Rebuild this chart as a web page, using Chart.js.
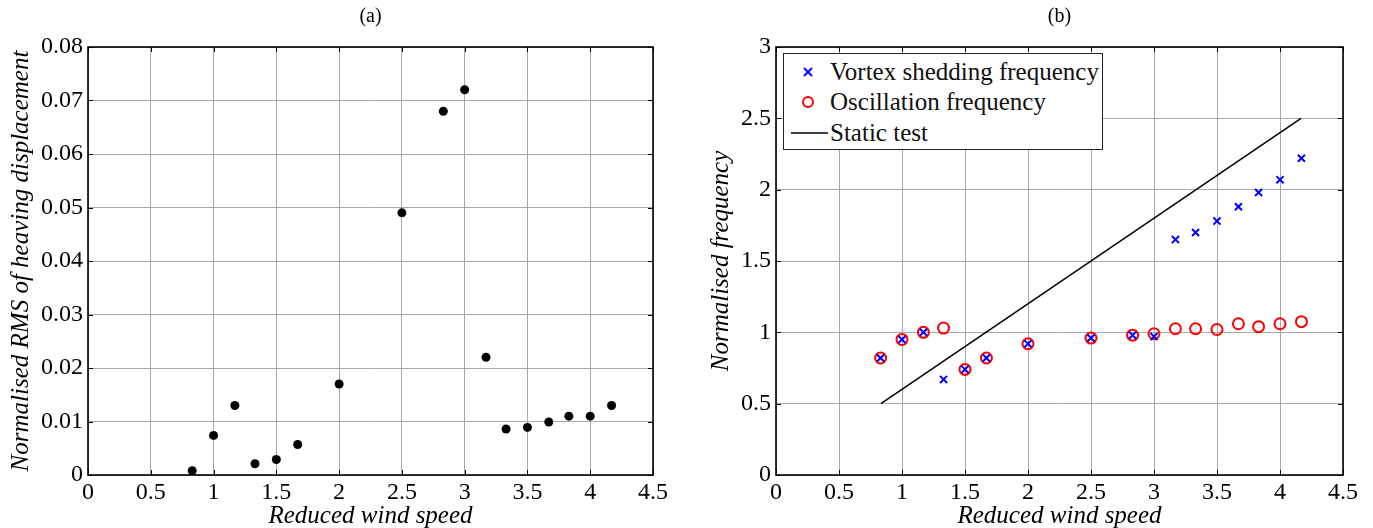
<!DOCTYPE html>
<html lang="en">
<head>
    <meta charset="UTF-8">
    <title>Heaving response and frequencies</title>
    <script src="https://cdn.jsdelivr.net/npm/chart.js"></script>
    <style>
        body {
            margin: 0;
            background: white;
            width: 1373px;
            height: 528px;
            position: relative;
            overflow: hidden;
            font-family: "Liberation Serif", "Times New Roman", Times, "DejaVu Serif", serif;
        }
        #chartA { position: absolute; left: 0; top: 0; }
        #chartB { position: absolute; left: 686px; top: 0; }
        #legend {
            position: absolute;
            left: 783px;
            top: 53px;
            width: 318px;
            height: 95px;
            border: 1.5px solid #222;
            background: white;
            font-size: 25px;
            color: #111;
        }
        .row { position: absolute; left: 0; height: 28px; line-height: 28px; }
        .row span { position: absolute; left: 46px; white-space: nowrap; }
        .row svg { position: absolute; left: 0; top: 0; }
    </style>
</head>
<body>
    <canvas id="chartA" width="686" height="528"></canvas>
    <canvas id="chartB" width="687" height="528"></canvas>
    <div id="legend">
        <div class="row" style="top:4px">
            <svg width="46" height="28"><path d="M20 10 L28 18 M28 10 L20 18" stroke="blue" stroke-width="2"/></svg>
            <span>Vortex shedding frequency</span>
        </div>
        <div class="row" style="top:34px">
            <svg width="46" height="28"><circle cx="24" cy="14" r="5" stroke="red" stroke-width="2" fill="none"/></svg>
            <span>Oscillation frequency</span>
        </div>
        <div class="row" style="top:65px">
            <svg width="46" height="28"><path d="M7 14 L44 14" stroke="black" stroke-width="1.5"/></svg>
            <span>Static test</span>
        </div>
    </div>

    <script>
        // reduced wind speed of each test
        const windSpeed = [0.83, 1.0, 1.17, 1.33, 1.5, 1.67, 2.0, 2.5, 2.83, 3.0, 3.17, 3.33, 3.5, 3.67, 3.83, 4.0, 4.17];
        // (a) normalised RMS of heaving displacement
        const rmsHeave = [0.0008, 0.0074, 0.013, 0.0021, 0.0029, 0.0057, 0.017, 0.049, 0.068, 0.072, 0.022, 0.0086, 0.0089, 0.0099, 0.011, 0.011, 0.013];
        // (b) normalised frequencies
        const vortexFreq = [0.82, 0.95, 1.0, 0.67, 0.74, 0.82, 0.92, 0.96, 0.98, 0.97, 1.65, 1.70, 1.78, 1.88, 1.98, 2.07, 2.22];
        const oscFreq = [0.82, 0.95, 1.0, 1.03, 0.74, 0.82, 0.92, 0.96, 0.98, 0.99, 1.025, 1.025, 1.02, 1.06, 1.04, 1.06, 1.075];
        const staticX = [0.833, 4.167];
        const staticY = [0.5, 2.5];

        const xTicks = [0, 0.5, 1, 1.5, 2, 2.5, 3, 3.5, 4, 4.5];
        const yTicksA = [0, 0.01, 0.02, 0.03, 0.04, 0.05, 0.06, 0.07, 0.08];
        const yTicksB = [0, 0.5, 1, 1.5, 2, 2.5, 3];

        const FONT = '"Liberation Serif", "Times New Roman", Times, "DejaVu Serif", serif';
        const pts = (xs, ys) => xs.map((x, i) => ({ x: x, y: ys[i] }));

        // box around the plot, small inward ticks, panel label
        const framePlugin = {
            id: 'frame',
            afterDraw(chart, args, opts) {
                const c = chart.ctx, a = chart.chartArea;
                const xs = chart.scales.x, ys = chart.scales.y;
                c.save();
                c.strokeStyle = '#000';
                c.lineWidth = 1;
                c.beginPath();
                xs.ticks.forEach(t => {
                    const px = Math.round(xs.getPixelForValue(t.value)) + 0.5;
                    c.moveTo(px, a.top); c.lineTo(px, a.top + 5);
                    c.moveTo(px, a.bottom); c.lineTo(px, a.bottom - 5);
                });
                ys.ticks.forEach(t => {
                    const py = Math.round(ys.getPixelForValue(t.value)) + 0.5;
                    c.moveTo(a.left, py); c.lineTo(a.left + 5, py);
                    c.moveTo(a.right, py); c.lineTo(a.right - 5, py);
                });
                c.stroke();
                c.lineWidth = 1.6;
                c.strokeRect(a.left, a.top, a.right - a.left, a.bottom - a.top);
                c.fillStyle = '#000';
                c.font = '20px ' + FONT;
                c.textAlign = 'center';
                c.textBaseline = 'middle';
                c.fillText(opts.label, (a.left + a.right) / 2, 17);
                c.restore();
            }
        };

        function makeScales(yTicks, yMax, yTitle, yWidth, yTitlePad) {
            return {
                x: {
                    type: 'linear', min: 0, max: 4.5,
                    afterBuildTicks: s => { s.ticks = xTicks.map(v => ({ value: v })); },
                    afterFit: s => { s.height = 53; },
                    grid: { color: '#a8a8a8', lineWidth: 1, drawTicks: false },
                    border: { display: false },
                    ticks: { color: '#000', padding: 3, font: { family: FONT, size: 24 }, callback: v => String(v) },
                    title: { display: true, text: 'Reduced wind speed', color: '#000', padding: { top: 0, bottom: -1 },
                             font: { family: FONT, size: 25, style: 'italic', lineHeight: 1 } }
                },
                y: {
                    type: 'linear', min: 0, max: yMax,
                    afterBuildTicks: s => { s.ticks = yTicks.map(v => ({ value: v })); },
                    afterFit: s => { s.width = yWidth; },
                    grid: { color: '#a8a8a8', lineWidth: 1, drawTicks: false },
                    border: { display: false },
                    ticks: { color: '#000', padding: 5, font: { family: FONT, size: 24 }, callback: v => String(v) },
                    title: { display: true, text: yTitle, color: '#000', padding: { top: yTitlePad, bottom: 0 },
                             font: { family: FONT, size: 25, style: 'italic', lineHeight: 1 } }
                }
            };
        }

        new Chart(document.getElementById('chartA'), {
            type: 'scatter',
            data: {
                datasets: [{
                    label: 'RMS',
                    data: pts(windSpeed, rmsHeave),
                    pointRadius: 4.5,
                    pointBackgroundColor: '#000',
                    pointBorderColor: '#000',
                    pointBorderWidth: 0
                }]
            },
            options: {
                responsive: false,
                animation: false,
                layout: { padding: { top: 47, right: 33, bottom: 0, left: 0 } },
                plugins: { legend: { display: false }, tooltip: { enabled: false }, frame: { label: '(a)' } },
                scales: makeScales(yTicksA, 0.08, 'Normalised RMS of heaving displacement', 88, 9)
            },
            plugins: [framePlugin]
        });

        new Chart(document.getElementById('chartB'), {
            type: 'scatter',
            data: {
                datasets: [
                    {
                        label: 'Vortex shedding frequency',
                        data: pts(windSpeed, vortexFreq),
                        pointStyle: 'crossRot',
                        pointRadius: 5,
                        pointBorderColor: 'blue',
                        pointBorderWidth: 2
                    },
                    {
                        label: 'Oscillation frequency',
                        data: pts(windSpeed, oscFreq),
                        pointStyle: 'circle',
                        pointRadius: 5.5,
                        pointBorderColor: 'red',
                        pointBackgroundColor: 'rgba(0,0,0,0)',
                        pointBorderWidth: 2
                    },
                    {
                        label: 'Static test',
                        data: pts(staticX, staticY),
                        showLine: true,
                        borderColor: '#000',
                        borderWidth: 1.5,
                        pointRadius: 0
                    }
                ]
            },
            options: {
                responsive: false,
                animation: false,
                layout: { padding: { top: 47, right: 30, bottom: 0, left: 0 } },
                plugins: { legend: { display: false }, tooltip: { enabled: false }, frame: { label: '(b)' } },
                scales: makeScales(yTicksB, 3, 'Normalised frequency', 90, 23)
            },
            plugins: [framePlugin]
        });
    </script>
</body>
</html>
